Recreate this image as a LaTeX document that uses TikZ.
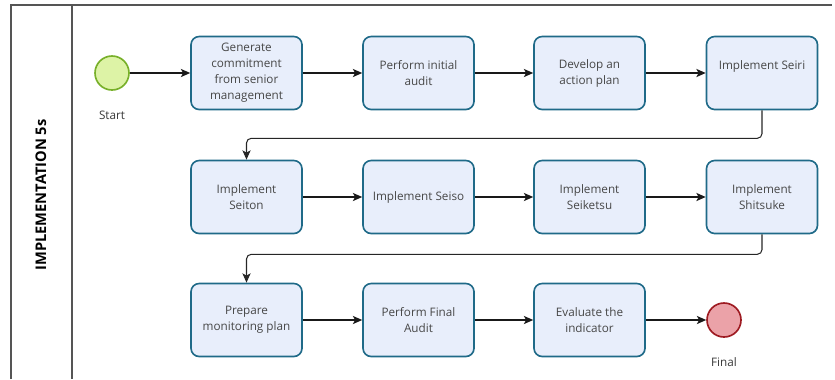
\documentclass[tikz,border=0pt]{standalone}
\usepackage{fontspec}
\setmainfont{Open Sans}
\usetikzlibrary{positioning}
\usetikzlibrary{arrows.meta}
\definecolor{taskline}{HTML}{1F6A88}
\definecolor{taskfill}{HTML}{E8EEFB}
\definecolor{startline}{HTML}{78B02A}
\definecolor{startfill}{HTML}{DDF3A6}
\definecolor{endline}{HTML}{9E1B22}
\definecolor{endfill}{HTML}{EBA2A8}
\definecolor{laneline}{HTML}{555555}
\tikzset{x=0.03cm, y=-0.03cm,
    task/.style={
        draw=taskline,
        fill=taskfill,
        line width=1.4pt,
        rounded corners=7pt,
        minimum width=3.33cm,
        minimum height=2.19cm,
        align=center,
        font=\fontsize{10}{13.6}\selectfont,
        text=black!72},
    event/.style={
        circle,
        line width=1.4pt,
        minimum size=1.02cm},
    caption/.style={
        font=\fontsize{10}{12}\selectfont,
        text=black!78},
    every edge/.style={
        draw,
        ->,>={Stealth[length=8pt,width=7pt,inset=2pt]},
        line width=0.9pt,
        black!90},
    flow/.style={
        ->,>={Stealth[length=8pt,width=7pt,inset=2pt]},
        line width=0.9pt,
        black!85,
        rounded corners=4pt}}

\begin{document}
\begin{tikzpicture}
        \useasboundingbox (0,0) rectangle (835,379);

        % pool and lane
        \draw[laneline, line width=1pt] (11,379) -- (11,5) -- (832,5);
        \draw[laneline, line width=1pt] (72,5) -- (72,379);
        \node[rotate=90, font=\bfseries\fontsize{12.5}{14}\selectfont] (lane) at (41,195) {IMPLEMENTATION 5s};

        % first row
        \node[event, draw=startline, fill=startfill] (start) at (112,73) {};
        \node[caption] (startlbl) at (112,115) {Start};
        \node[task] (commit) at (246.5,73) {Generate\\commitment\\from senior\\management};
        \node[task] (audit) at (418.5,73) {Perform initial\\audit};
        \node[task] (plan) at (589.5,73) {Develop an\\action plan};
        \node[task] (seiri) at (762,73) {Implement Seiri\\\mbox{}};

        % second row
        \node[task] (seiton) at (246.5,197) {Implement\\Seiton};
        \node[task] (seiso) at (418.5,197) {Implement Seiso};
        \node[task] (seiketsu) at (589.5,197) {Implement\\Seiketsu};
        \node[task] (shitsuke) at (762,197) {Implement\\Shitsuke};

        % third row
        \node[task] (monitor) at (246.5,320) {Prepare\\monitoring plan};
        \node[task] (finalaudit) at (418.5,320) {Perform Final\\Audit};
        \node[task] (indicator) at (589.5,320) {Evaluate the\\indicator};
        \node[event, draw=endline, fill=endfill] (final) at (724,320) {};
        \node[caption] (finallbl) at (724,362) {Final};

        \draw (start) edge (commit);
        \draw (commit) edge (audit);
        \draw (audit) edge (plan);
        \draw (plan) edge (seiri);
        \draw[flow] (seiri.south) -- ++(0,28) -| (seiton.north);

        \draw (seiton) edge (seiso);
        \draw (seiso) edge (seiketsu);
        \draw (seiketsu) edge (shitsuke);
        \draw[flow] (shitsuke.south) -- ++(0,20) -| (monitor.north);

        \draw (monitor) edge (finalaudit);
        \draw (finalaudit) edge (indicator);
        \draw (indicator) edge (final);
    \end{tikzpicture}
\end{document}
